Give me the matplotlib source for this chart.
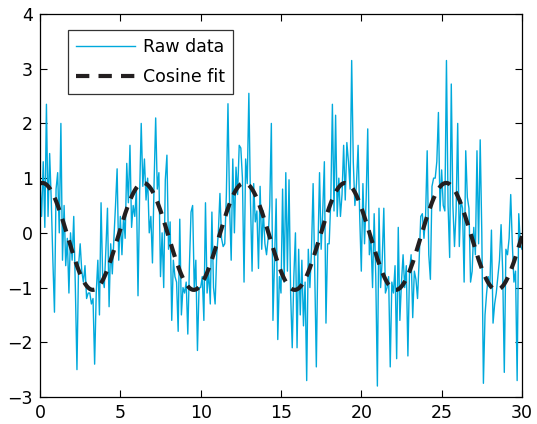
import matplotlib
matplotlib.use("Agg")
import matplotlib.pyplot as plt
import numpy as np

# raw samples, x step 0.1 from 0 to 30 (one row per unit of x)
raw_y = [
    0.9, 0.3, 1.3, 0.1, 2.35, 0.3, 1.45, 0.6, -0.5, -1.45,
    0.8, 1.1, 0.0, 2.0, -0.5, 0.5, -0.6, -0.1, -1.1, 0.0,
    -0.5, 0.3, -1.0, -2.5, -0.6, -0.2, -0.7, -0.9, -0.6, -1.2,
    -1.1, -1.1, -1.3, -1.2, -2.4, -1.1, -0.5, -1.5, 0.55, -0.8,
    -1.0, -0.3, 0.45, -1.35, -0.2, -0.75, -0.1, 0.5, 1.17, -0.5,
    0.3, -0.4, 0.3, -0.1, 1.27, 0.55, 1.6, 0.1, 0.5, 0.3,
    0.8, -1.15, 0.7, 2.0, 0.85, 1.35, 0.6, 1.0, 0.0, 0.3,
    -0.55, 0.9, 2.1, 0.8, 1.1, -0.8, 0.0, -1.0, 0.97, 1.42,
    -0.3, 0.2, -1.6, -0.5, -0.8, -0.9, -1.8, 0.25, -1.5, -1.0,
    -1.1, -0.9, -1.85, -0.6, 0.38, 0.5, -1.0, -0.5, -2.15, -1.0,
    -1.0, -0.8, -1.6, 0.55, -1.1, -0.7, -1.3, 0.38, -1.0, -1.3,
    -0.4, 0.0, 0.72, -0.1, -0.25, -0.2, 0.7, 2.36, 0.5, -0.5,
    1.35, 0.0, 1.2, 0.7, 1.6, 1.55, 1.0, -0.9, 1.35, 0.9,
    2.55, 0.6, -0.7, 0.9, 0.2, 0.4, -0.65, 0.85, -0.3, 0.4,
    -0.2, -0.4, -0.1, 0.5, 2.0, -1.6, -0.5, 0.62, -1.95, -0.8,
    -1.1, 0.8, -0.9, 1.1, -0.7, 0.97, -1.1, -2.1, -0.8, 0.0,
    -2.1, -0.3, -1.5, -0.5, -1.7, -0.9, -2.7, -0.3, -1.0, -0.3,
    0.9, -0.7, -2.45, -0.3, 1.1, -0.3, 0.4, 1.3, -1.65, -0.2,
    -0.2, 0.6, 2.35, 0.4, 2.15, 0.3, 1.0, 0.3, 0.7, 1.6,
    0.6, 1.65, 1.3, 0.8, 3.15, 1.3, 0.5, 0.9, 1.6, 0.3,
    -0.7, 0.9, -0.2, 0.6, 1.9, -0.4, -0.1, -1.0, 0.35, -0.8,
    -2.8, 0.45, -1.0, -0.5, 0.45, -1.1, -1.0, -0.8, -2.45, -0.9,
    -1.1, -0.6, -2.3, 0.1, -1.6, -0.9, -0.4, -1.0, -0.6, -2.25,
    -0.7, -0.4, -1.55, -0.7, -0.85, -1.2, -0.5, 0.3, 0.35, -0.1,
    0.3, 1.5, -0.4, -0.85, 0.85, 1.0, 1.0, 1.3, 2.2, 0.4,
    1.15, 0.5, 0.4, 3.15, 0.5, -0.45, 2.72, 0.5, -0.25, 0.4,
    2.0, -0.25, 0.6, 0.45, -0.9, 1.5, 0.65, 0.45, -0.9, -0.7,
    0.1, -0.4, 1.5, -0.2, 1.7, 0.0, -2.75, -1.5, -1.1, -0.8,
    -1.0, 0.05, -1.65, -1.3, -1.1, -0.8, -0.5, 0.15, -0.7, -2.55,
    -0.3, -0.4, -0.1, 0.7, -0.2, -0.9, -0.7, -2.7, 0.35, -0.2,
    -0.3,
]
raw_y = np.array(raw_y)
raw_x = np.arange(len(raw_y)) * 0.1

# least-squares cosine fit (period 2*pi) to the raw samples
A = np.column_stack([np.cos(raw_x), np.sin(raw_x), np.ones_like(raw_x)])
coef, *_ = np.linalg.lstsq(A, raw_y, rcond=None)
fit_y = A @ coef

x_ticks = [0, 5, 10, 15, 20, 25, 30]
y_ticks = [-3, -2, -1, 0, 1, 2, 3, 4]

fig = plt.figure(figsize=(5.37, 4.24), dpi=100)
ax = fig.add_axes([0.0745, 0.0637, 0.8975, 0.9033])

ax.plot(raw_x, raw_y, color="#00a9dc", lw=1.0, label="Raw data")
ax.plot(raw_x, fit_y, color="#231f20", lw=3.0, dashes=(3.2, 2.2), label="Cosine fit")

ax.set_xlim(0, 30)
ax.set_ylim(-3, 4)
ax.set_xticks(x_ticks)
ax.set_yticks(y_ticks)
ax.tick_params(direction="in", top=True, right=True, length=5, width=0.8,
               labelsize=12.5, pad=5)
for s in ax.spines.values():
    s.set_linewidth(0.9)

leg = ax.legend(loc="upper left", bbox_to_anchor=(0.058, 0.958), borderaxespad=0,
                fontsize=12.5, frameon=True, fancybox=False, edgecolor="black",
                handlelength=3.4, borderpad=0.45, labelspacing=0.7, handletextpad=0.5)
leg.get_frame().set_linewidth(0.9)

fig.savefig("out.png", dpi=100)
